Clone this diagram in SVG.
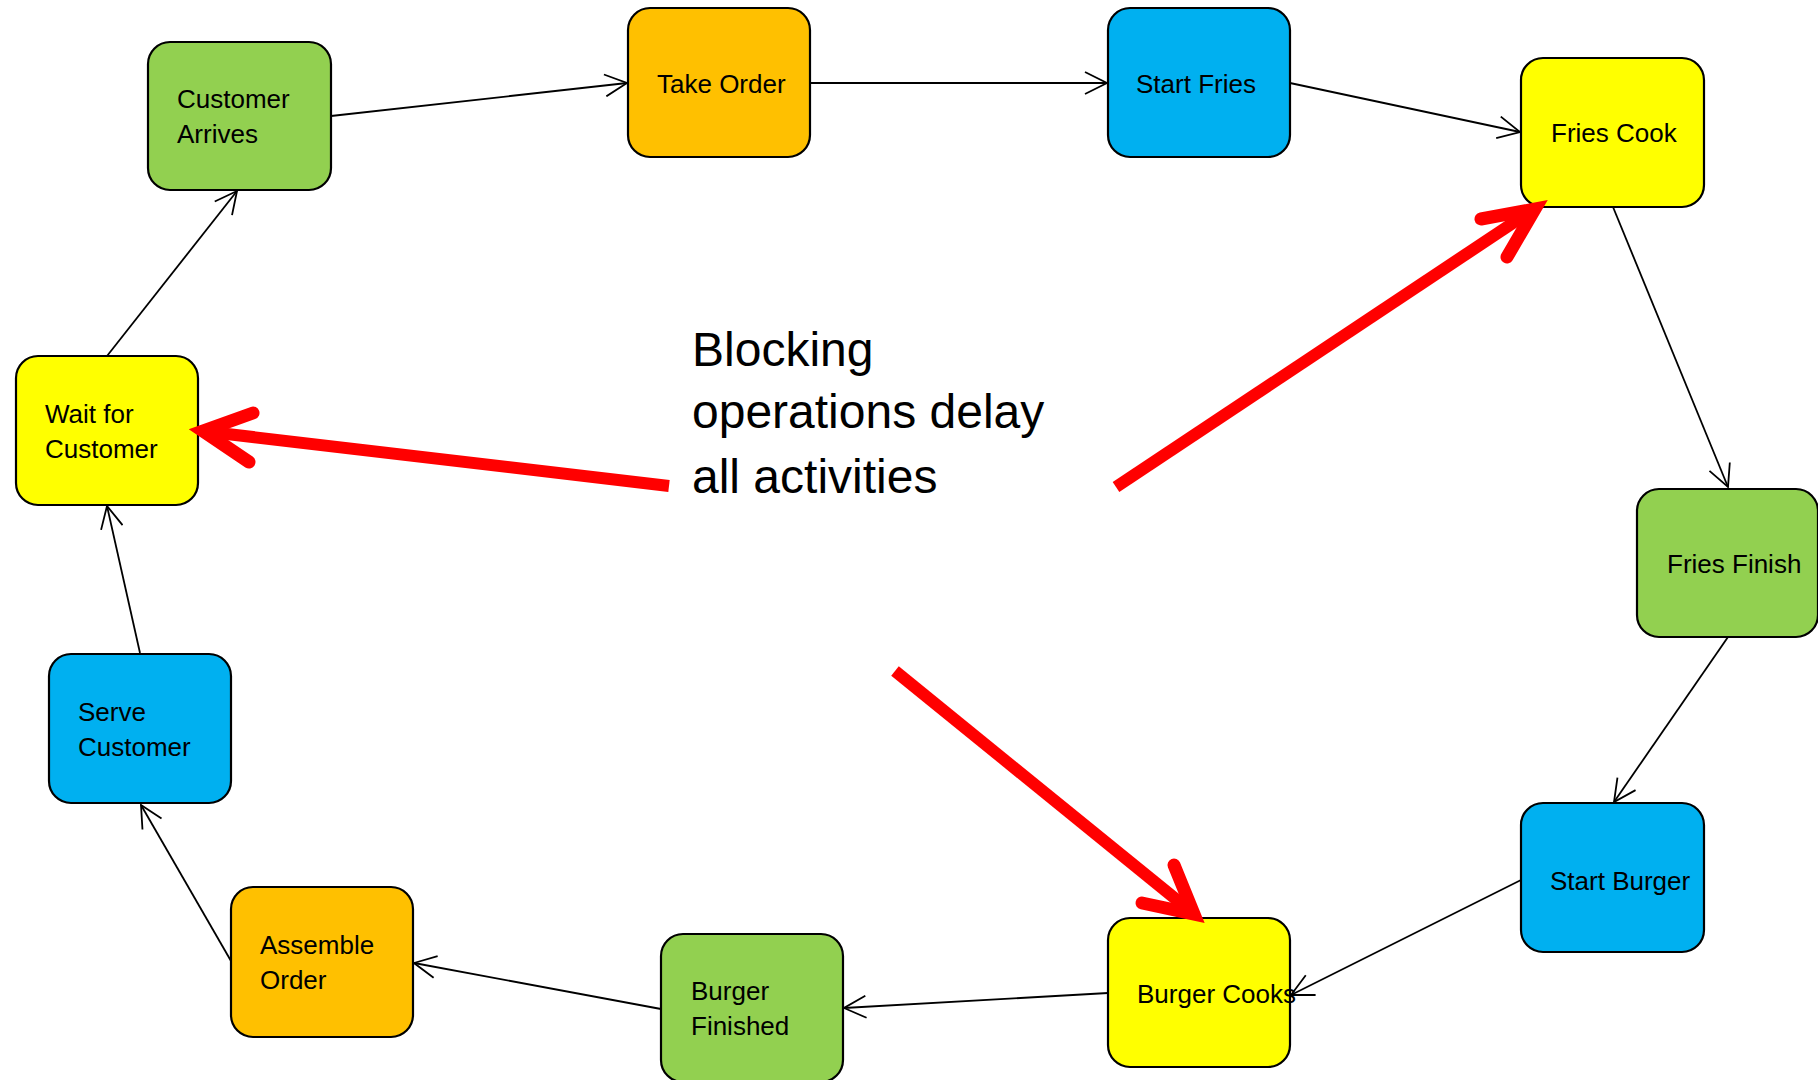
<svg xmlns="http://www.w3.org/2000/svg" width="1818" height="1080" viewBox="0 0 1818 1080">
<style>
.box{stroke:#000;stroke-width:2.2}
.green{fill:#92D050}.orange{fill:#FFC000}.blue{fill:#00B0F0}.yellow{fill:#FFFF00}
.lbl{font-family:"Liberation Sans",Arial,sans-serif;font-size:26px;fill:#000}
.big{font-family:"Liberation Sans",Arial,sans-serif;font-size:48px;fill:#000}
.conn{stroke:#000;stroke-width:1.8;fill:none;marker-end:url(#open)}
.red{stroke:#FF0000;stroke-width:12;fill:none}
.redhead{stroke:#FF0000;stroke-width:13;fill:none;stroke-linecap:round;stroke-linejoin:miter}
</style>
<defs>
<marker id="open" viewBox="0 0 24 24" refX="23" refY="12" markerWidth="24" markerHeight="24" markerUnits="userSpaceOnUse" orient="auto">
<path d="M1,1 L23,12 L1,23" fill="none" stroke="#000" stroke-width="1.8"/>
</marker>
</defs>
<rect width="1818" height="1080" fill="#fff"/>
<g id="connectors">
<line class="conn" x1="107" y1="356" x2="237" y2="191"/>
<line class="conn" x1="331" y1="116" x2="627" y2="83"/>
<line class="conn" x1="810" y1="83" x2="1107" y2="83"/>
<line class="conn" x1="1290" y1="83" x2="1520" y2="132"/>
<line class="conn" x1="1613" y1="207" x2="1728" y2="487"/>
<line class="conn" x1="1728" y1="637" x2="1614" y2="802"/>
<line class="conn" x1="1521" y1="880" x2="1291" y2="995"/>
<line class="conn" x1="1108" y1="993" x2="844" y2="1008"/>
<line class="conn" x1="661" y1="1009" x2="414" y2="963"/>
<line class="conn" x1="231" y1="961" x2="141" y2="805"/>
<line class="conn" x1="140" y1="653" x2="107" y2="506"/>
</g>
<g id="n-customer-arrives"><rect class="box green" x="148" y="42" width="183" height="148" rx="22"/><text class="lbl" x="177" y="108">Customer</text><text class="lbl" x="177" y="143">Arrives</text></g>
<g id="n-take-order"><rect class="box orange" x="628" y="8" width="182" height="149" rx="22"/><text class="lbl" x="657" y="93">Take Order</text></g>
<g id="n-start-fries"><rect class="box blue" x="1108" y="8" width="182" height="149" rx="22"/><text class="lbl" x="1136" y="93">Start Fries</text></g>
<g id="n-fries-cook"><rect class="box yellow" x="1521" y="58" width="183" height="149" rx="22"/><text class="lbl" x="1551" y="142">Fries Cook</text></g>
<g id="n-fries-finish"><rect class="box green" x="1637" y="489" width="181" height="148" rx="22"/><text class="lbl" x="1667" y="573">Fries Finish</text></g>
<g id="n-start-burger"><rect class="box blue" x="1521" y="803" width="183" height="149" rx="22"/><text class="lbl" x="1550" y="890">Start Burger</text></g>
<g id="n-burger-cooks"><rect class="box yellow" x="1108" y="918" width="182" height="149" rx="22"/><text class="lbl" x="1137" y="1003">Burger Cooks</text></g>
<g id="n-burger-finished"><rect class="box green" x="661" y="934" width="182" height="148" rx="22"/><text class="lbl" x="691" y="1000">Burger</text><text class="lbl" x="691" y="1035">Finished</text></g>
<g id="n-assemble-order"><rect class="box orange" x="231" y="887" width="182" height="150" rx="22"/><text class="lbl" x="260" y="954">Assemble</text><text class="lbl" x="260" y="989">Order</text></g>
<g id="n-serve-customer"><rect class="box blue" x="49" y="654" width="182" height="149" rx="22"/><text class="lbl" x="78" y="721">Serve</text><text class="lbl" x="78" y="756">Customer</text></g>
<g id="n-wait-customer"><rect class="box yellow" x="16" y="356" width="182" height="149" rx="22"/><text class="lbl" x="45" y="423">Wait for</text><text class="lbl" x="45" y="458">Customer</text></g>
<g id="callout">
<text class="big" x="692" y="366">Blocking</text>
<text class="big" x="692" y="428">operations delay</text>
<text class="big" x="692" y="493">all activities</text>
<line class="red" x1="669" y1="486" x2="210" y2="432"/>
<polyline class="redhead" points="253,413 203,431 249,462"/>
<line class="red" x1="1116" y1="487" x2="1528" y2="213"/>
<polyline class="redhead" points="1481,219 1535,209 1507,257"/>
<line class="red" x1="895" y1="671" x2="1188" y2="909"/>
<polyline class="redhead" points="1142,903 1194,914 1174,865"/>
</g>
</svg>
